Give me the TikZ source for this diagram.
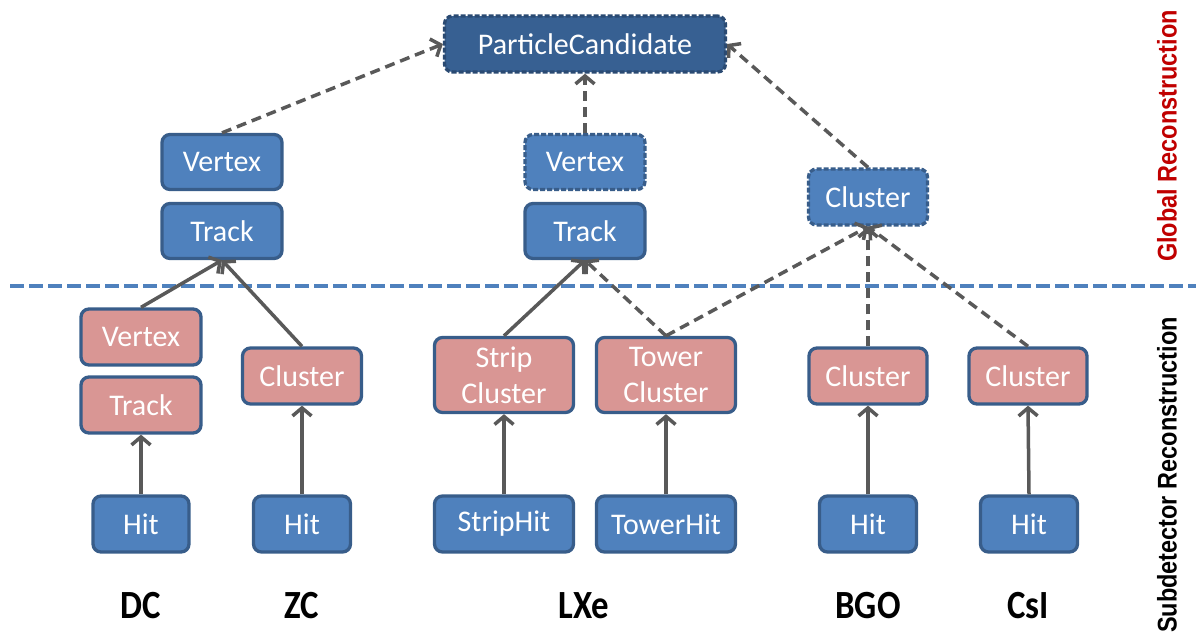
\documentclass[tikz,border=0pt]{standalone}
\usepackage{fontspec}
\setmainfont{Carlito}
\newfontfamily\sidefont{Liberation Sans}
\usetikzlibrary{arrows.meta}
\definecolor{blueF}{HTML}{4F81BD}
\definecolor{blueD}{HTML}{385D8A}
\definecolor{pinkF}{HTML}{D99694}
\definecolor{pcF}{HTML}{376092}
\definecolor{pcD}{HTML}{2A4A72}
\definecolor{connC}{HTML}{595959}
\definecolor{redT}{HTML}{C00000}
\tikzset{
  box/.style={draw=blueD, line width=3.3pt, rounded corners=8pt, text=white,
    font=\fontsize{30}{36}\selectfont, align=center, inner sep=0pt,
    minimum width=120pt, minimum height=55pt},
  bbox/.style={box, fill=blueF},
  pbox/.style={box, fill=pinkF},
  dashbox/.style={dash pattern=on 5pt off 2pt},
  conn/.style={draw=connC, line width=3.5pt, -{Straight Barb[length=8pt,width=19pt]}},
  dconn/.style={conn, dash pattern=on 10pt off 6pt},
  sep/.style={draw=blueF, line width=3.3pt, dash pattern=on 14pt off 5pt},
  det/.style={font=\fontsize{40}{44}\selectfont\bfseries, inner sep=0pt},
  side/.style={rotate=90, font=\fontsize{27}{30}\selectfont\sidefont\bfseries, inner sep=0pt}
}
\begin{document}
\begin{tikzpicture}[x=1pt,y=-1pt]
\useasboundingbox (0,0) rectangle (1198,635);
% separator
\coordinate (sl) at (10,286);
\coordinate (sr) at (1196,286);
\draw[sep] (sl) -- (sr);
% global
\node[box, fill=pcF, draw=pcD, dashbox, minimum width=281pt, minimum height=56pt] (pc) at (585,44) {ParticleCandidate};
\node[bbox] (v1) at (222,162) {Vertex};
\node[bbox] (t1) at (222,231) {Track};
\node[bbox, dashbox] (v2) at (585,162) {Vertex};
\node[bbox] (t2) at (585,231) {Track};
\node[bbox, dashbox, minimum width=119pt, minimum height=56pt] (c3) at (868,197) {Cluster};
% subdetector
\node[pbox, minimum height=56pt] (dcv) at (141,337) {Vertex};
\node[pbox, minimum height=56pt] (dct) at (141,405) {Track};
\node[pbox, minimum width=119pt, minimum height=56pt] (zcc) at (302,376) {Cluster};
\node[pbox, minimum width=139pt, minimum height=75pt] (sc) at (504,375) {Strip\\Cluster};
\node[pbox, minimum width=139pt, minimum height=75pt] (tc) at (666,375) {Tower\\Cluster};
\node[pbox, minimum width=118pt, minimum height=56pt] (bc) at (868,376) {Cluster};
\node[pbox, minimum width=118pt, minimum height=56pt] (cc) at (1028,376) {Cluster};
% hits
\node[bbox, minimum width=96pt, minimum height=56pt] (h1) at (141,524) {Hit};
\node[bbox, minimum width=97pt, minimum height=56pt] (h2) at (302,524) {Hit};
\node[bbox, minimum width=139pt, minimum height=56pt] (sh) at (504,524) {StripHit};
\node[bbox, minimum width=139pt, minimum height=56pt] (th) at (666,524) {TowerHit};
\node[bbox, minimum width=97pt, minimum height=56pt] (h3) at (868,524) {Hit};
\node[bbox, minimum width=97pt, minimum height=56pt] (h4) at (1029,524) {Hit};
% connectors
\draw[dconn] (v1.north) -- (pc.west);
\draw[dconn] (v2.north) -- (pc.south);
\draw[dconn] (c3.north) -- (pc.east);
\draw[conn] (dcv.north) -- (t1.south);
\draw[conn] (zcc.north) -- (t1.south);
\draw[conn] (sc.north) -- (t2.south);
\draw[dconn] (tc.north) -- (t2.south);
\draw[dconn] (tc.north) -- (c3.south);
\draw[dconn] (bc.north) -- (c3.south);
\draw[dconn] (cc.north) -- (c3.south);
\draw[conn] (h1.north) -- (dct.south);
\draw[conn] (h2.north) -- (zcc.south);
\draw[conn] (sh.north) -- (sc.south);
\draw[conn] (th.north) -- (tc.south);
\draw[conn] (h3.north) -- (bc.south);
\draw[conn] (h4.north) -- (cc.south);
% detector labels
\node[det] (ldc) at (141,606) {\scalebox{0.87}[1]{DC}};
\node[det] (lzc) at (302,606) {\scalebox{0.87}[1]{ZC}};
\node[det] (llxe) at (584,606) {\scalebox{0.87}[1]{LXe}};
\node[det] (lbgo) at (868,606) {\scalebox{0.87}[1]{BGO}};
\node[det] (lcsi) at (1028,606) {\scalebox{0.87}[1]{CsI}};
% side labels
\node[side, text=redT] (lg) at (1167,136) {\scalebox{0.87}[1]{Global Reconstruction}};
\node[side, text=black] (ls) at (1167,475) {\scalebox{0.87}[1]{Subdetector Reconstruction}};
\end{tikzpicture}
\end{document}
